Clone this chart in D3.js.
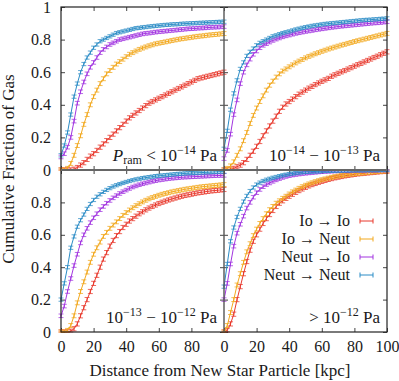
<!DOCTYPE html>
<html>
<head>
<meta charset="utf-8">
<script src="https://cdnjs.cloudflare.com/ajax/libs/d3/7.8.5/d3.min.js"></script>
<style>
  body { margin: 0; background: #fff; }
  svg { display: block; }
</style>
</head>
<body>
<div id="chart"></div>
<script>
// distance bins [kpc]
var distance = [0,2,4,6,8,10,12,14,16,18,20,22,24,26,28,30,32,34,36,38,40,42,44,46,48,50,
  52,54,56,58,60,62,64,66,68,70,72,74,76,78,80,82,84,86,88,90,92,94,96,98,100];

var seriesNames = ["Io \u2192 Io", "Io \u2192 Neut", "Neut \u2192 Io", "Neut \u2192 Neut"];
var seriesColors = ["#e8382c", "#f2a81d", "#a235e0", "#2b8cc6"];
var errHalf = [0.013, 0.012, 0.011, 0.01];

var xTicks = [0, 20, 40, 60, 80, 100];
var yTicks = [0, 0.2, 0.4, 0.6, 0.8, 1];

// P_ram < 1e-14 Pa
var lowIoIo = [0,0,0,0,0.005,0.015,0.03,0.045,0.065,0.085,0.10,0.12,0.14,0.16,0.18,0.20,0.22,0.24,0.26,0.28,0.30,
  0.32,0.335,0.35,0.365,0.38,0.395,0.41,0.42,0.43,0.44,0.45,0.46,0.47,0.48,0.49,0.50,0.51,0.52,0.53,0.54,
  0.55,0.56,0.565,0.57,0.575,0.58,0.585,0.59,0.595,0.60];
var lowIoNeut = [0,0,0.01,0.04,0.09,0.15,0.21,0.28,0.34,0.40,0.45,0.49,0.53,0.56,0.59,0.61,0.63,0.65,0.665,0.68,0.695,
  0.71,0.72,0.73,0.74,0.748,0.755,0.762,0.768,0.774,0.778,0.782,0.786,0.79,0.794,0.798,0.802,0.805,0.808,0.811,0.814,
  0.817,0.82,0.822,0.824,0.827,0.829,0.831,0.833,0.835,0.837];
var lowNeutIo = [0.08,0.10,0.14,0.20,0.30,0.41,0.48,0.54,0.59,0.63,0.66,0.69,0.72,0.74,0.755,0.77,0.78,0.79,0.80,0.805,0.81,
  0.815,0.82,0.825,0.83,0.835,0.838,0.84,0.843,0.846,0.848,0.85,0.852,0.854,0.856,0.858,0.86,0.862,0.864,0.866,0.867,
  0.868,0.87,0.871,0.872,0.874,0.875,0.876,0.877,0.878,0.88];
var lowNeutNeut = [0.09,0.15,0.23,0.34,0.45,0.53,0.60,0.65,0.69,0.72,0.75,0.77,0.79,0.80,0.81,0.82,0.83,0.84,0.845,0.85,0.855,
  0.86,0.865,0.87,0.872,0.875,0.877,0.88,0.882,0.884,0.886,0.888,0.89,0.891,0.893,0.894,0.895,0.897,0.898,0.899,0.90,
  0.901,0.902,0.903,0.904,0.905,0.906,0.907,0.908,0.909,0.91];

// 1e-14 - 1e-13 Pa
var midIoIo = [0,0,0.005,0.01,0.02,0.03,0.045,0.065,0.09,0.115,0.145,0.175,0.21,0.24,0.27,0.30,0.33,0.36,0.385,0.405,0.42,
  0.435,0.45,0.465,0.478,0.49,0.502,0.513,0.524,0.534,0.544,0.553,0.562,0.575,0.584,0.593,0.602,0.61,0.619,0.628,0.637,
  0.646,0.654,0.663,0.672,0.681,0.69,0.698,0.707,0.716,0.725];
var midIoNeut = [0,0.01,0.025,0.05,0.09,0.13,0.18,0.23,0.285,0.335,0.38,0.42,0.455,0.49,0.52,0.545,0.57,0.59,0.607,0.62,0.633,
  0.645,0.657,0.668,0.678,0.688,0.697,0.705,0.713,0.72,0.728,0.735,0.742,0.748,0.754,0.76,0.766,0.771,0.777,0.782,0.788,
  0.793,0.798,0.803,0.808,0.813,0.818,0.823,0.828,0.833,0.838];
var midNeutIo = [0.07,0.12,0.22,0.34,0.43,0.53,0.60,0.645,0.68,0.71,0.73,0.75,0.765,0.775,0.785,0.795,0.803,0.81,0.817,0.823,0.828,
  0.833,0.838,0.842,0.846,0.85,0.853,0.856,0.86,0.863,0.866,0.869,0.872,0.875,0.877,0.88,0.882,0.884,0.886,0.888,0.89,
  0.892,0.894,0.896,0.898,0.90,0.902,0.903,0.905,0.907,0.91];
var midNeutNeut = [0.13,0.24,0.37,0.47,0.55,0.62,0.66,0.70,0.725,0.745,0.765,0.78,0.79,0.80,0.81,0.82,0.826,0.833,0.84,0.845,0.85,
  0.856,0.862,0.867,0.872,0.876,0.88,0.884,0.887,0.89,0.893,0.896,0.898,0.90,0.902,0.904,0.906,0.908,0.91,0.912,0.914,
  0.916,0.918,0.92,0.921,0.922,0.924,0.925,0.927,0.928,0.93];

// 1e-13 - 1e-12 Pa
var highIoIo = [0,0,0,0.005,0.02,0.05,0.10,0.15,0.20,0.25,0.30,0.35,0.40,0.45,0.49,0.53,0.565,0.595,0.62,0.645,0.665,
  0.685,0.70,0.715,0.73,0.742,0.754,0.765,0.775,0.784,0.793,0.801,0.808,0.815,0.821,0.827,0.833,0.838,0.843,0.847,0.851,
  0.855,0.859,0.862,0.865,0.868,0.871,0.873,0.875,0.877,0.88];
var highIoNeut = [0,0,0.01,0.04,0.10,0.18,0.25,0.31,0.37,0.43,0.48,0.52,0.555,0.59,0.615,0.64,0.66,0.68,0.70,0.72,0.737,
  0.753,0.767,0.78,0.792,0.803,0.813,0.822,0.83,0.837,0.844,0.85,0.855,0.86,0.865,0.869,0.873,0.877,0.881,0.884,0.887,
  0.89,0.893,0.896,0.898,0.90,0.902,0.904,0.906,0.908,0.91];
var highNeutIo = [0.10,0.16,0.25,0.33,0.41,0.48,0.55,0.60,0.64,0.675,0.705,0.73,0.755,0.775,0.795,0.812,0.828,0.842,0.855,0.866,0.876,
  0.886,0.895,0.902,0.909,0.915,0.92,0.925,0.93,0.934,0.938,0.941,0.944,0.947,0.949,0.951,0.953,0.955,0.956,0.957,0.958,
  0.959,0.96,0.961,0.962,0.963,0.964,0.965,0.966,0.966,0.967];
var highNeutNeut = [0.20,0.30,0.40,0.52,0.59,0.65,0.69,0.725,0.76,0.79,0.815,0.835,0.85,0.865,0.877,0.888,0.898,0.906,0.913,0.92,0.926,
  0.932,0.937,0.942,0.946,0.95,0.953,0.956,0.959,0.962,0.964,0.966,0.968,0.97,0.972,0.974,0.976,0.977,0.979,0.98,0.981,
  0.982,0.983,0.984,0.985,0.986,0.987,0.988,0.989,0.99,0.99];

// > 1e-12 Pa
var extremeIoIo = [0,0.01,0.05,0.11,0.20,0.28,0.36,0.435,0.505,0.56,0.60,0.635,0.67,0.70,0.725,0.75,0.775,0.795,0.81,0.825,0.838,
  0.85,0.862,0.873,0.883,0.893,0.902,0.91,0.917,0.924,0.93,0.936,0.942,0.947,0.952,0.956,0.96,0.964,0.967,0.97,0.973,
  0.976,0.978,0.98,0.982,0.984,0.986,0.988,0.99,0.991,0.993];
var extremeIoNeut = [0,0.04,0.12,0.20,0.29,0.36,0.43,0.495,0.545,0.595,0.635,0.67,0.70,0.73,0.755,0.775,0.795,0.81,0.825,0.838,0.852,
  0.865,0.876,0.887,0.897,0.906,0.914,0.921,0.928,0.934,0.94,0.945,0.95,0.955,0.959,0.963,0.966,0.969,0.972,0.975,0.977,
  0.979,0.981,0.983,0.985,0.987,0.989,0.99,0.992,0.993,0.995];
var extremeNeutIo = [0.20,0.30,0.42,0.53,0.61,0.665,0.715,0.765,0.80,0.832,0.86,0.88,0.897,0.91,0.92,0.93,0.939,0.947,0.954,0.96,0.965,
  0.969,0.972,0.975,0.978,0.98,0.982,0.984,0.986,0.988,0.99,0.991,0.992,0.993,0.994,0.995,0.995,0.996,0.996,0.997,0.997,
  0.998,0.998,0.998,0.999,0.999,0.999,0.999,1,1,1];
var extremeNeutNeut = [0.28,0.42,0.56,0.645,0.71,0.76,0.805,0.84,0.87,0.892,0.91,0.922,0.932,0.94,0.946,0.952,0.957,0.962,0.967,0.971,0.975,
  0.978,0.981,0.984,0.986,0.988,0.989,0.99,0.991,0.992,0.993,0.994,0.994,0.995,0.995,0.996,0.996,0.997,0.997,0.997,0.998,
  0.998,0.998,0.998,0.999,0.999,0.999,0.999,1,1,1];

var width = 399, height = 381;
var serif = "Liberation Serif";
var svg = d3.select("#chart").append("svg").attr("width", width).attr("height", height)
  .attr("font-family", serif);

var xLeft = d3.scaleLinear().domain([0, 100]).range([61, 224]);
var xRight = d3.scaleLinear().domain([0, 100]).range([224, 387]);
var yTop = d3.scaleLinear().domain([0, 1]).range([170, 7]);
var yBottom = d3.scaleLinear().domain([0, 1]).range([332, 170]);

var panels = [
  { x: xLeft, y: yTop, data: [lowIoIo, lowIoNeut, lowNeutIo, lowNeutNeut], yLabels: true, xLabels: false, lastX: false, lastY: true },
  { x: xRight, y: yTop, data: [midIoIo, midIoNeut, midNeutIo, midNeutNeut], yLabels: false, xLabels: false },
  { x: xLeft, y: yBottom, data: [highIoIo, highIoNeut, highNeutIo, highNeutNeut], yLabels: true, xLabels: true, lastX: false, lastY: false },
  { x: xRight, y: yBottom, data: [extremeIoIo, extremeIoNeut, extremeNeutIo, extremeNeutNeut], yLabels: false, xLabels: true, lastX: true }
];

var fmt = function(d){ return d3.format("~g")(d); };

panels.forEach(function(p) {
  var g = svg.append("g");
  var x0 = p.x.range()[0], x1 = p.x.range()[1];
  var y0 = p.y.range()[0], y1 = p.y.range()[1];

  // inward ticks on all four sides
  var bottom = d3.axisBottom(p.x).tickValues(xTicks).tickSizeInner(-4).tickSizeOuter(0).tickPadding(9)
    .tickFormat(function(d){ return p.xLabels && (d < 100 || p.lastX) ? fmt(d) : ""; });
  var top = d3.axisTop(p.x).tickValues(xTicks).tickSizeInner(-4).tickSizeOuter(0).tickFormat("");
  var left = d3.axisLeft(p.y).tickValues(yTicks).tickSizeInner(-4).tickSizeOuter(0).tickPadding(10)
    .tickFormat(function(d){ return p.yLabels && (d < 1 || p.lastY) ? fmt(d) : ""; });
  var right = d3.axisRight(p.y).tickValues(yTicks).tickSizeInner(-4).tickSizeOuter(0).tickFormat("");

  [[bottom, "translate(0," + y0 + ")"], [top, "translate(0," + y1 + ")"],
   [left, "translate(" + x0 + ",0)"], [right, "translate(" + x1 + ",0)"]].forEach(function(a) {
    var ag = g.append("g").attr("transform", a[1]).call(a[0]);
    ag.attr("font-family", serif).attr("font-size", 16);
    ag.select(".domain").remove();
    ag.selectAll("line").attr("stroke", "#444");
    ag.selectAll("text").attr("fill", "#1a1a1a");
  });

  var line = d3.line().x(function(d, i){ return p.x(distance[i]); }).y(function(d){ return p.y(d); });

  p.data.forEach(function(vals, s) {
    var col = seriesColors[s];
    var e = errHalf[s];
    var sg = g.append("g");
    sg.append("path").datum(vals).attr("d", line)
      .attr("fill", "none").attr("stroke", col).attr("stroke-width", 1);
    var bars = sg.selectAll("g.eb").data(vals).enter().append("g").attr("class", "eb");
    bars.append("line")
      .attr("x1", function(d, i){ return p.x(distance[i]); })
      .attr("x2", function(d, i){ return p.x(distance[i]); })
      .attr("y1", function(d){ return p.y(Math.max(0, d - e)); })
      .attr("y2", function(d){ return p.y(Math.min(1, d + e)); })
      .attr("stroke", col).attr("stroke-width", 1);
    [-1, 1].forEach(function(sign) {
      bars.append("line")
        .attr("x1", function(d, i){ return p.x(distance[i]) - 2.5; })
        .attr("x2", function(d, i){ return p.x(distance[i]) + 2.5; })
        .attr("y1", function(d){ return p.y(Math.max(0, Math.min(1, d + sign * e))); })
        .attr("y2", function(d){ return p.y(Math.max(0, Math.min(1, d + sign * e))); })
        .attr("stroke", col).attr("stroke-width", 1).attr("stroke-opacity", 0.75);
    });
  });
});

// frames
svg.append("rect").attr("x", 61).attr("y", 7).attr("width", 326).attr("height", 325)
  .attr("fill", "none").attr("stroke", "#222").attr("stroke-width", 1.2);
svg.append("line").attr("x1", 61).attr("x2", 387).attr("y1", 170).attr("y2", 170)
  .attr("stroke", "#666").attr("stroke-width", 1.8);
svg.append("line").attr("x1", 224).attr("x2", 224).attr("y1", 7).attr("y2", 332)
  .attr("stroke", "#555").attr("stroke-width", 1.4);

// panel labels
function supLabel(x, y, parts) {
  var t = svg.append("text").attr("x", x).attr("y", y).attr("text-anchor", "end")
    .attr("font-family", serif).attr("font-size", 17).attr("fill", "#1a1a1a");
  parts.forEach(function(pt) {
    var ts = t.append("tspan").text(pt.t);
    if (pt.dy) ts.attr("dy", pt.dy);
    if (pt.fs) ts.attr("font-size", pt.fs);
    if (pt.it) ts.attr("font-style", "italic");
  });
}
supLabel(217, 161, [{t: "P", it: true}, {t: "ram", fs: 12, dy: 3}, {t: " < 10", dy: -3},
  {t: "\u221214", fs: 12, dy: -7}, {t: " Pa", dy: 7}]);
supLabel(380, 161, [{t: "10"}, {t: "\u221214", fs: 12, dy: -7}, {t: " \u2212 10", dy: 7},
  {t: "\u221213", fs: 12, dy: -7}, {t: " Pa", dy: 7}]);
supLabel(217, 323, [{t: "10"}, {t: "\u221213", fs: 12, dy: -7}, {t: " \u2212 10", dy: 7},
  {t: "\u221212", fs: 12, dy: -7}, {t: " Pa", dy: 7}]);
supLabel(380, 323, [{t: "> 10"}, {t: "\u221212", fs: 12, dy: -7}, {t: " Pa", dy: 7}]);

// legend
var legY = [221, 239, 257, 275];
seriesNames.forEach(function(name, i) {
  svg.append("text").attr("x", 350).attr("y", legY[i]).attr("dy", "0.32em")
    .attr("text-anchor", "end").attr("font-family", serif).attr("font-size", 16)
    .attr("fill", "#1a1a1a").text(name);
  var lg = svg.append("g").attr("stroke", seriesColors[i]).attr("stroke-width", 1);
  lg.append("line").attr("x1", 360).attr("x2", 373).attr("y1", legY[i]).attr("y2", legY[i]);
  lg.append("line").attr("x1", 360).attr("x2", 360).attr("y1", legY[i] - 2.5).attr("y2", legY[i] + 2.5);
  lg.append("line").attr("x1", 373).attr("x2", 373).attr("y1", legY[i] - 2.5).attr("y2", legY[i] + 2.5);
});

// axis titles
svg.append("text").attr("x", 220).attr("y", 376).attr("text-anchor", "middle")
  .attr("font-family", serif).attr("font-size", 17).attr("fill", "#1a1a1a")
  .text("Distance from New Star Particle [kpc]");
svg.append("text").attr("transform", "translate(14,169) rotate(-90)").attr("text-anchor", "middle")
  .attr("font-family", serif).attr("font-size", 17).attr("fill", "#1a1a1a")
  .text("Cumulative Fraction of Gas");
</script>
</body>
</html>
